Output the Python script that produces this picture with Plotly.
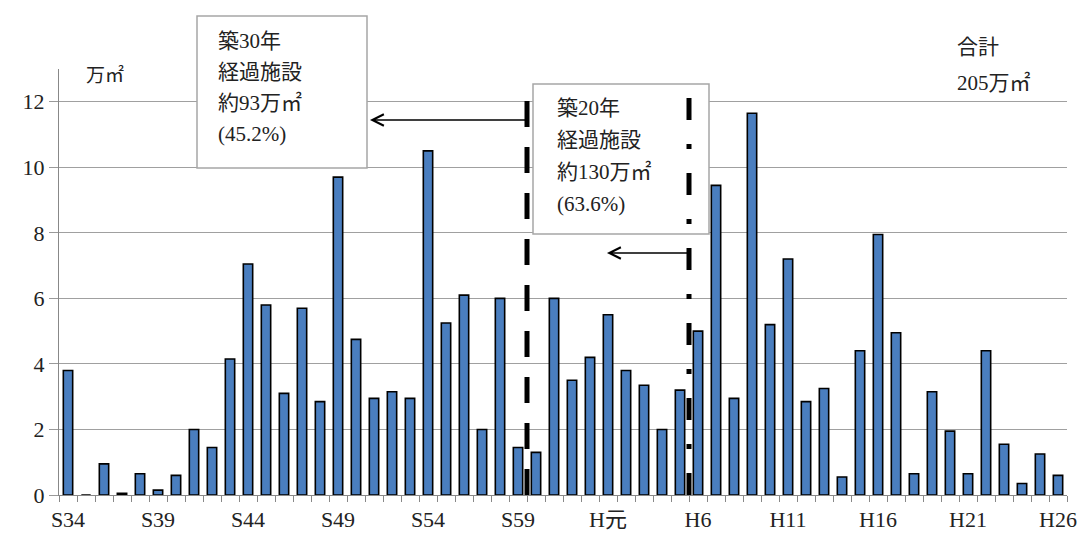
import plotly.graph_objects as go

categories = [
    "S34", "S35", "S36", "S37", "S38", "S39", "S40", "S41", "S42", "S43",
    "S44", "S45", "S46", "S47", "S48", "S49", "S50", "S51", "S52", "S53",
    "S54", "S55", "S56", "S57", "S58", "S59", "S60", "S61", "S62", "S63",
    "H元", "H2", "H3", "H4", "H5", "H6", "H7", "H8", "H9", "H10",
    "H11", "H12", "H13", "H14", "H15", "H16", "H17", "H18", "H19", "H20",
    "H21", "H22", "H23", "H24", "H25", "H26",
]
values = [
    3.8, 0.0, 0.95, 0.05, 0.65, 0.15, 0.6, 2.0, 1.45, 4.15,
    7.05, 5.8, 3.1, 5.7, 2.85, 9.7, 4.75, 2.95, 3.15, 2.95,
    10.5, 5.25, 6.1, 2.0, 6.0, 1.45, 1.3, 6.0, 3.5, 4.2,
    5.5, 3.8, 3.35, 2.0, 3.2, 5.0, 9.45, 2.95, 11.65, 5.2,
    7.2, 2.85, 3.25, 0.55, 4.4, 7.95, 4.95, 0.65, 3.15, 1.95,
    0.65, 4.4, 1.55, 0.35, 1.25, 0.6,
]
tick_labels = ["S34", "S39", "S44", "S49", "S54", "S59", "H元", "H6", "H11", "H16", "H21", "H26"]
y_ticks = [0, 2, 4, 6, 8, 10, 12]

box30_lines = ["築30年", "経過施設", "約93万㎡", "(45.2%)"]
box20_lines = ["築20年", "経過施設", "約130万㎡", "(63.6%)"]
total_lines = ["合計", "205万㎡"]
unit_label = "万㎡"

boundary30 = "S59"  # line after this category
boundary20 = "H5"

FONT = "Liberation Serif, DejaVu Serif, Noto Sans CJK JP"

fig = go.Figure()
fig.add_trace(go.Bar(
    x=categories, y=values, width=0.52,
    marker=dict(color="#4a7ebf", line=dict(color="#000000", width=1.6)),
    showlegend=False,
))

ticktext = [c if c in tick_labels else "" for c in categories]

fig.update_layout(
    width=1082, height=536,
    margin=dict(l=59, r=15, t=69, b=41),
    paper_bgcolor="white", plot_bgcolor="white",
    font=dict(family=FONT, size=20, color="#222222"),
    bargap=0.48,
    xaxis=dict(
        type="category", tickmode="array", tickvals=categories, ticktext=ticktext,
        tickson="boundaries", ticks="outside", ticklen=6, tickcolor="#888888",
        tickangle=0, automargin=False, ticklabelstandoff=4,
        showline=True, linecolor="#888888", linewidth=1.2,
        showgrid=False, range=[-0.5, len(categories) - 0.5],
        tickfont=dict(family=FONT, size=22, color="#222222"),
    ),
    yaxis=dict(
        range=[0, 13], tickvals=y_ticks, ticks="outside", ticklen=9, tickcolor="#999999",
        automargin=False,
        showline=True, linecolor="#888888", linewidth=1.2,
        showgrid=True, gridcolor="#a0a0a0", gridwidth=1.2, zeroline=False,
        tickfont=dict(family=FONT, size=22, color="#222222"),
    ),
)

i30 = categories.index(boundary30) + 0.5
i20 = categories.index(boundary20) + 0.5

def px_to_x(px):
    return (px - 59) / 18.0 - 0.5

def py_to_paper(py):
    return (495 - py) / 426.0

# boxes
fig.add_shape(type="rect", xref="x", yref="paper",
              x0=px_to_x(197), x1=px_to_x(367), y0=py_to_paper(168), y1=py_to_paper(16),
              fillcolor="white", line=dict(color="#a6a6a6", width=1.5), layer="above")
fig.add_shape(type="rect", xref="x", yref="paper",
              x0=px_to_x(533), x1=px_to_x(709), y0=py_to_paper(234), y1=py_to_paper(84),
              fillcolor="white", line=dict(color="#a6a6a6", width=1.5), layer="above")

# vertical boundary lines
ytop = (495 - 89) / (426 / 13)
fig.add_shape(type="line", xref="x", yref="y", x0=i30, x1=i30, y0=0, y1=ytop,
              line=dict(color="black", width=5, dash="26px,20px"), layer="above")
fig.add_shape(type="line", xref="x", yref="y", x0=i20, x1=i20, y0=0, y1=ytop,
              line=dict(color="black", width=5, dash="22px,24px,5px,24px"), layer="above")

# arrows
yarr1 = (495 - 120) / (426 / 13)
fig.add_annotation(x=px_to_x(370), y=yarr1, ax=i30, ay=yarr1, xref="x", yref="y",
                   axref="x", ayref="y", text="", showarrow=True,
                   arrowhead=5, arrowsize=1.4, arrowwidth=1.6, arrowcolor="black")
yarr2 = (495 - 253) / (426 / 13)
fig.add_annotation(x=px_to_x(607), y=yarr2, ax=i20, ay=yarr2, xref="x", yref="y",
                   axref="x", ayref="y", text="", showarrow=True,
                   arrowhead=5, arrowsize=1.4, arrowwidth=1.6, arrowcolor="black")

def add_lines(lines, px, py_first, spacing, size=21):
    for k, t in enumerate(lines):
        fig.add_annotation(x=px_to_x(px), y=py_to_paper(py_first + k * spacing),
                           xref="x", yref="paper", text=t, showarrow=False,
                           xanchor="left", yanchor="middle",
                           font=dict(family=FONT, size=size, color="#222222"))

add_lines(box30_lines, 216, 41, 31)
add_lines(box20_lines, 555, 108, 32)
add_lines(total_lines, 955, 47, 36)
add_lines([unit_label], 84, 75, 0, size=19)

fig.write_html("out.html")
